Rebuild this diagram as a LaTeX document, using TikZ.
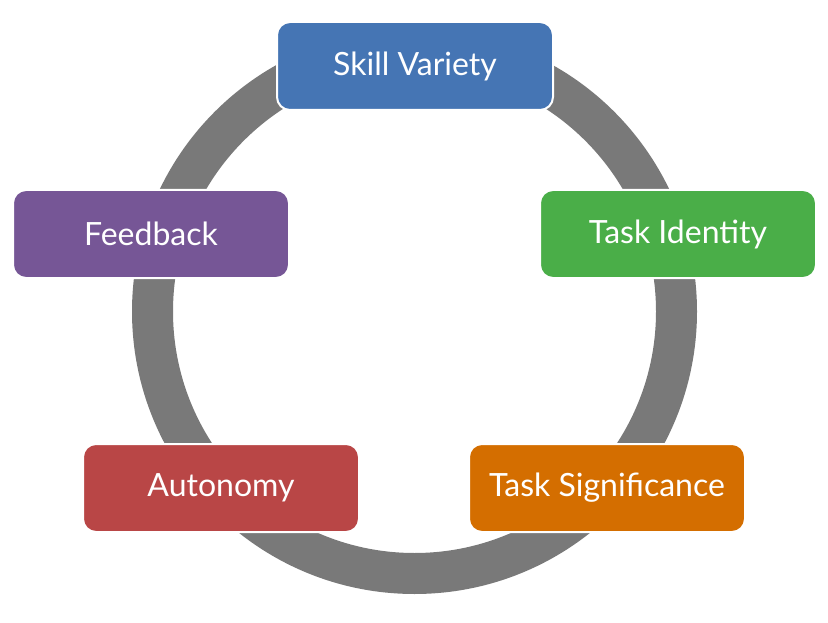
\documentclass[tikz,border=0pt]{standalone}
\usepackage{fontspec}
\setmainfont{Lato}
\definecolor{ringgray}{HTML}{797979}
\definecolor{boxblue}{HTML}{4575B4}
\definecolor{boxgreen}{HTML}{4AAE48}
\definecolor{boxorange}{HTML}{D46E00}
\definecolor{boxred}{HTML}{B94646}
\definecolor{boxpurple}{HTML}{765696}
\begin{document}
\begin{tikzpicture}[x=1pt,y=-1pt,
    dim/.style={rectangle, rounded corners=13pt, draw=white, line width=2pt,
      minimum width=276pt, minimum height=88pt, text=white,
      font=\fontsize{32}{38}\selectfont}]
    \useasboundingbox (0,0) rectangle (828,623);
    \coordinate (hub) at (414.5,311.5);
    \draw[ringgray, line width=41pt] (hub) circle (262pt);
    \node[dim, fill=boxblue]   (skill)   at (415,66)  {Skill Variety};
    \node[dim, fill=boxgreen]  (identity) at (678,234) {Task Identity};
    \node[dim, fill=boxorange] (signif)  at (607,488) {Task Significance};
    \node[dim, fill=boxred]    (autonomy) at (221,488) {Autonomy};
    \node[dim, fill=boxpurple] (feedback) at (151,234) {Feedback};
  \end{tikzpicture}
\end{document}
